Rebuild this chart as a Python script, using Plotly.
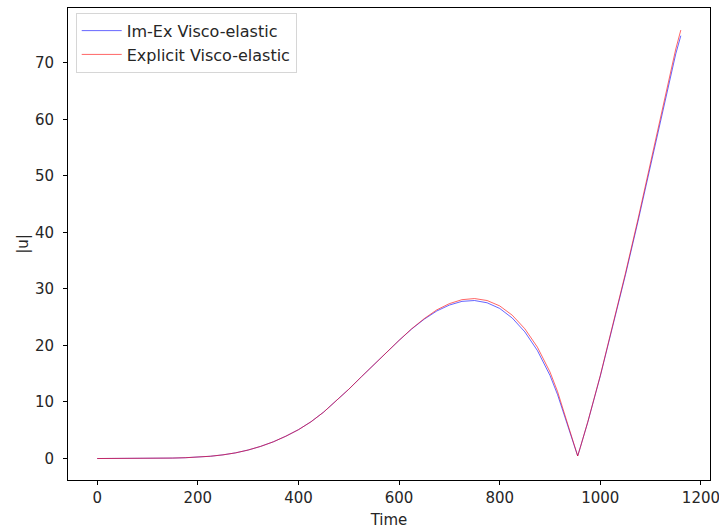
import plotly.graph_objects as go

# Sampled time instants
time = [0, 25, 50, 75, 100, 125, 150, 175, 200, 225, 250, 275, 300, 325, 350,
        375, 400, 425, 450, 475, 500, 525, 550, 575, 600, 625, 650, 675, 700,
        725, 740, 750, 775, 800, 825, 850, 875, 900, 915, 930, 940, 950, 955,
        960, 975, 1000, 1025, 1050, 1075, 1100, 1125, 1150, 1160]

# |u| for the implicit-explicit visco-elastic scheme
u_imex = [0.0, 0.0, 0.0, 0.01, 0.02, 0.04, 0.08, 0.14, 0.24, 0.40, 0.65, 1.0,
          1.5, 2.15, 2.95, 3.95, 5.1, 6.5, 8.2, 10.15, 12.25, 14.45, 16.65,
          18.8, 20.9, 22.9, 24.65, 26.1, 27.15, 27.8, 27.95, 27.95, 27.55,
          26.55, 24.85, 22.4, 19.1, 14.7, 11.3, 7.2, 4.4, 1.6, 0.45, 1.9,
          6.4, 14.6, 23.3, 32.5, 42.0, 51.9, 61.9, 71.6, 74.8]

# |u| for the fully explicit visco-elastic scheme
u_explicit = [0.0, 0.0, 0.0, 0.01, 0.02, 0.04, 0.08, 0.14, 0.24, 0.40, 0.65,
              1.0, 1.5, 2.15, 2.95, 3.95, 5.1, 6.5, 8.2, 10.15, 12.25, 14.45,
              16.65, 18.8, 20.9, 22.95, 24.75, 26.3, 27.4, 28.1, 28.28, 28.3,
              27.95, 27.0, 25.35, 22.95, 19.7, 15.3, 11.85, 7.7, 4.8, 1.8,
              0.45, 1.9, 6.45, 14.7, 23.5, 32.8, 42.4, 52.4, 62.55, 72.45,
              75.8]

x_ticks = [0, 200, 400, 600, 800, 1000, 1200]
y_ticks = [0, 10, 20, 30, 40, 50, 60, 70]

fig = go.Figure()
fig.add_trace(go.Scatter(
    x=time, y=u_imex, mode="lines", name="Im-Ex Visco-elastic",
    legendgroup="imex",
    line=dict(color="rgba(0,0,255,0.6)", width=1),
))
fig.add_trace(go.Scatter(
    x=time, y=u_explicit, mode="lines", name="Explicit Visco-elastic",
    legendgroup="explicit",
    line=dict(color="rgba(255,0,0,0.6)", width=1),
))

axis_common = dict(
    showline=True, linecolor="black", linewidth=1, mirror=True,
    ticks="outside", ticklen=4, tickwidth=1, tickcolor="black",
    showgrid=False, zeroline=False, automargin=False,
    ticklabeloverflow="allow",
    tickfont=dict(family="DejaVu Sans", size=15, color="#262626"),
)

fig.update_layout(
    width=719, height=530,
    margin=dict(l=68, r=9, t=8, b=50),
    paper_bgcolor="white", plot_bgcolor="white",
    font=dict(family="DejaVu Sans", size=15, color="#262626"),
    xaxis=dict(range=[-58, 1218], tickvals=x_ticks,
               title=dict(text="Time", standoff=8,
                          font=dict(family="DejaVu Sans", size=15)),
               **axis_common),
    yaxis=dict(range=[-3.8, 79.7], tickvals=y_ticks, ticklabelstandoff=6,
               title=dict(text="|u|", standoff=2,
                          font=dict(family="DejaVu Sans", size=15)),
               **axis_common),
    legend=dict(
        x=0.012, y=0.99, xanchor="left", yanchor="top",
        bgcolor="rgba(255,255,255,0.8)", bordercolor="#d6d6d6", borderwidth=1,
        font=dict(family="DejaVu Sans", size=16, color="#262626"),
        itemwidth=40, tracegroupgap=0,
    ),
    showlegend=True,
)

fig.write_html("out.html")
